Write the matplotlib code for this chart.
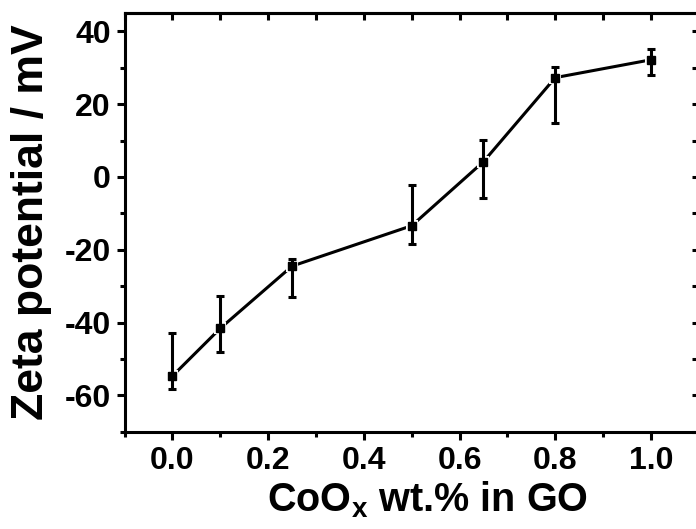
import numpy as np
import matplotlib
matplotlib.use("Agg")
import matplotlib.pyplot as plt
from matplotlib.ticker import MultipleLocator

plt.rcParams['font.family'] = ['Liberation Sans', 'DejaVu Sans']
plt.rcParams['font.weight'] = 'bold'
plt.rcParams['axes.unicode_minus'] = False
plt.rcParams['mathtext.fontset'] = 'custom'
plt.rcParams['mathtext.rm'] = 'Liberation Sans:bold'
plt.rcParams['mathtext.bf'] = 'Liberation Sans:bold'
plt.rcParams['mathtext.it'] = 'Liberation Sans:bold'

coox = [0.0, 0.1, 0.25, 0.5, 0.65, 0.8, 1.0]
zeta = [-54.7, -41.6, -24.5, -13.4, 4.2, 27.3, 32.2]
err_low = [-58.2, -48.0, -32.9, -18.5, -5.9, 14.8, 28.0]
err_high = [-42.8, -32.7, -22.6, -2.3, 10.1, 30.1, 35.2]

zeta = np.array(zeta)
yerr = np.array([zeta - np.array(err_low), np.array(err_high) - zeta])

fig = plt.figure(figsize=(6.96, 5.29), dpi=100)
ax = fig.add_axes([0.179, 0.184, 0.825, 0.791])

# line with a small gap around each marker (origin style)
ax.plot(coox, zeta, color='black', lw=2.2, zorder=1)
ax.plot(coox, zeta, ls='none', marker='s', ms=7.5, mfc='black', mec='white',
        mew=1.5, zorder=2)
ax.errorbar(coox, zeta, yerr=yerr, fmt='none', ecolor='black',
            elinewidth=2.2, capsize=3.2, capthick=2.2, zorder=3)
ax.plot(coox, zeta, ls='none', marker='s', ms=6, color='black', zorder=4)

ax.set_xlim(-0.1, 1.1)
ax.set_ylim(-70, 45)
ax.xaxis.set_minor_locator(MultipleLocator(0.1))
ax.yaxis.set_minor_locator(MultipleLocator(10))
ax.set_xticks([0.0, 0.2, 0.4, 0.6, 0.8, 1.0])
ax.set_yticks([-60, -40, -20, 0, 20, 40])

for s in ax.spines.values():
    s.set_linewidth(2.2)

ax.tick_params(which='both', direction='out', width=2.2, labelsize=23, pad=4)
ax.tick_params(which='major', length=6)
ax.tick_params(which='minor', length=3.5)

# inward ticks on top and right
top = ax.secondary_xaxis('top')
top.xaxis.set_major_locator(MultipleLocator(0.1))
top.tick_params(direction='in', width=2.2, length=5, labeltop=False)
right = ax.secondary_yaxis('right')
right.yaxis.set_major_locator(MultipleLocator(10))
right.tick_params(direction='in', width=2.2, length=5, labelright=False)
for s in list(top.spines.values()) + list(right.spines.values()):
    s.set_linewidth(2.2)

ax.set_xlabel(r'CoO$_{\mathrm{x}}$ wt.% in GO', fontsize=28.5, fontweight='bold')
ax.xaxis.set_label_coords(0.527, -0.113)
ax.set_ylabel('Zeta potential / mV', fontsize=32, fontweight='bold', labelpad=9)

fig.savefig('out.png', dpi=100)
